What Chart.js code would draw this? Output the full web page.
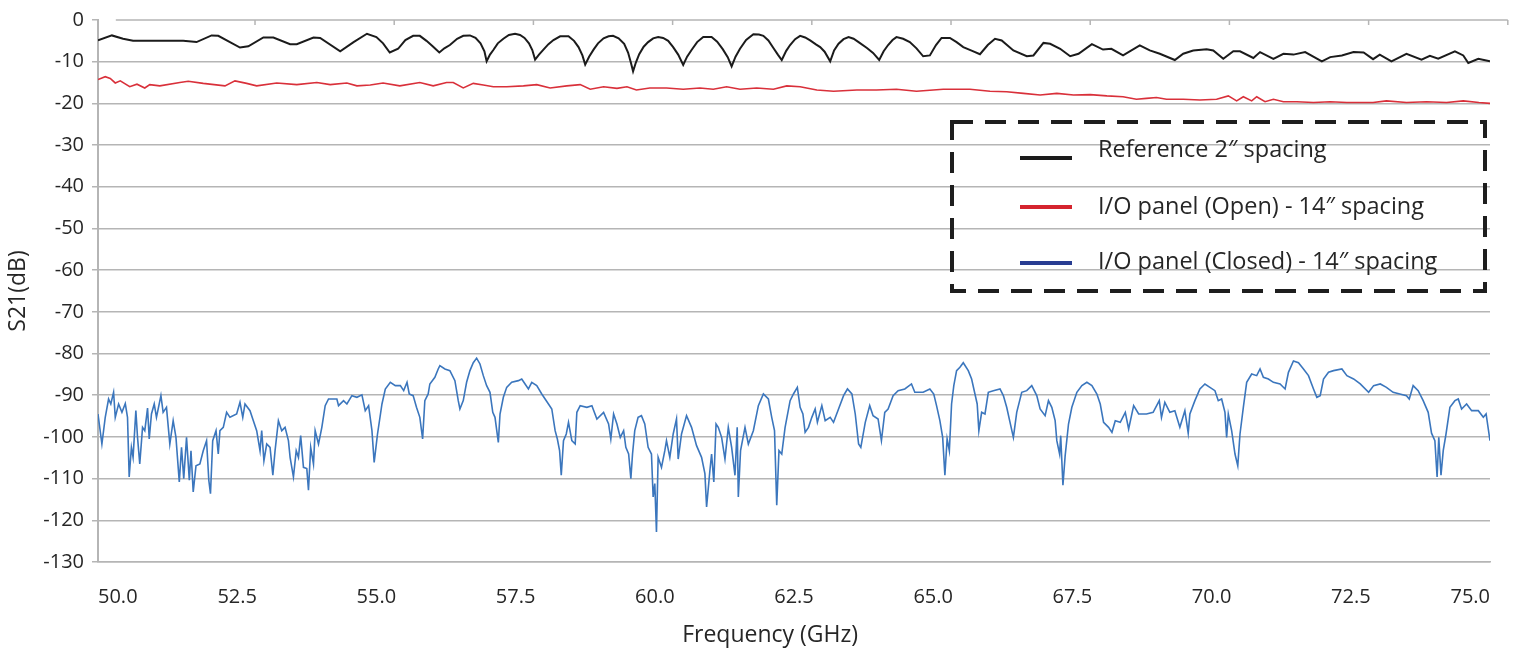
<!DOCTYPE html>
<html lang="en">
<head>
<meta charset="UTF-8">
<script src="https://cdn.jsdelivr.net/npm/chart.js"></script>
<style>
    body { margin: 0; padding: 0; background: #fff; }
    .chart-container { position: relative; width: 1524px; height: 651px; }
</style>
</head>
<body>
<div class="chart-container">
    <canvas id="myChart"></canvas>
</div>
<script>
// --- DATA ---
const seriesNames = [
    'Reference 2\u2033 spacing',
    'I/O panel (Open) - 14\u2033 spacing',
    'I/O panel (Closed) - 14\u2033 spacing'
];
const freqTicks = [50.0, 52.5, 55.0, 57.5, 60.0, 62.5, 65.0, 67.5, 70.0, 72.5, 75.0];
const dbTicks = [0, -10, -20, -30, -40, -50, -60, -70, -80, -90, -100, -110, -120, -130];

// Reference 2" spacing (black)
const refFreq = [50.0, 50.25, 50.45, 50.63, 51.53, 51.77, 52.04, 52.16, 52.55, 52.7, 52.97, 53.15, 53.45, 53.57, 53.87, 53.99,
    54.35, 54.59, 54.83, 55.0, 55.12, 55.24, 55.39, 55.52, 55.66, 55.78, 55.9, 56.02, 56.13,
    56.22, 56.32, 56.45, 56.56, 56.68, 56.78, 56.87, 56.94, 56.98,
    57.04, 57.1, 57.18, 57.28, 57.38, 57.49, 57.58, 57.66, 57.74, 57.8, 57.85,
    57.92, 58.0, 58.09, 58.18, 58.3, 58.45, 58.55, 58.63, 58.7, 58.75,
    58.82, 58.9, 58.98, 59.08, 59.17, 59.25, 59.35, 59.45, 59.52, 59.57, 59.61,
    59.66, 59.72, 59.8, 59.88, 59.97, 60.06, 60.15, 60.24, 60.33, 60.42, 60.51,
    60.58, 60.66, 60.76, 60.87, 61.02, 61.12, 61.22, 61.31, 61.38,
    61.45, 61.53, 61.64, 61.77, 61.87, 61.95, 62.04, 62.13, 62.21, 62.28,
    62.36, 62.43, 62.52, 62.61, 62.7, 62.79, 62.9, 62.97, 63.05, 63.15,
    63.22, 63.3, 63.39, 63.48, 63.57, 63.66, 63.81, 63.92, 64.03,
    64.11, 64.19, 64.27, 64.34, 64.46, 64.58, 64.7, 64.82, 64.94, 65.05, 65.15, 65.3, 65.42, 65.54, 65.7, 65.84,
    65.98, 66.11, 66.23, 66.44, 66.68, 66.8, 66.98,
    67.1, 67.28, 67.46, 67.61, 67.85, 68.05, 68.2, 68.41, 68.71, 68.89, 69.07, 69.34, 69.49, 69.67, 69.91, 70.03, 70.21, 70.39,
    70.51, 70.75, 70.87, 71.11, 71.29, 71.47, 71.68, 71.98, 72.13, 72.34, 72.55, 72.73, 72.9, 73.02, 73.23, 73.5, 73.77, 73.92,
    74.07, 74.37, 74.52, 74.61, 74.79, 75.0];
const refDb = [-4.9, -3.7, -4.5, -5.0, -5.0, -5.3, -3.7, -3.8, -6.6, -6.3, -4.2, -4.2, -5.8, -5.8, -4.2, -4.3,
    -7.5, -5.3, -3.3, -4.1, -5.6, -7.8, -6.9, -4.8, -3.8, -3.8, -5.0, -6.4, -7.8,
    -6.8, -6.0, -4.5, -3.8, -3.7, -4.3, -5.6, -7.5, -9.9,
    -8.3, -7.2, -5.6, -4.5, -3.6, -3.3, -3.6, -4.3, -5.6, -7.2, -9.5,
    -8.3, -7.1, -5.8, -4.8, -3.9, -3.9, -5.0, -6.5, -8.5, -10.7,
    -8.8, -7.1, -5.6, -4.4, -3.9, -3.8, -4.4, -5.7, -7.8, -10.2, -12.3,
    -10.2, -8.2, -6.4, -5.3, -4.4, -4.1, -4.3, -5.0, -6.5, -8.3, -10.8,
    -8.8, -7.2, -5.3, -4.1, -4.1, -5.2, -7.0, -8.9, -11.1,
    -8.8, -6.9, -4.8, -3.4, -3.5, -3.8, -4.9, -6.7, -8.3, -9.6,
    -7.4, -6.0, -4.6, -3.8, -4.2, -4.9, -5.9, -6.5, -7.6, -9.9,
    -7.3, -5.7, -4.6, -4.1, -4.5, -5.3, -6.7, -7.9, -9.6,
    -7.5, -6.0, -4.8, -4.1, -4.5, -5.3, -6.8, -8.7, -8.5, -6.0, -4.3, -4.3, -5.3, -6.5, -7.4, -8.2,
    -6.0, -4.5, -4.9, -7.3, -8.7, -8.5, -5.5,
    -5.7, -6.9, -8.7, -8.1, -5.8, -7.1, -6.9, -8.5, -6.1, -7.3, -8.1, -9.6, -8.1, -7.3, -7.0, -7.3, -9.3, -7.5,
    -7.5, -9.1, -7.7, -9.3, -8.1, -8.3, -7.7, -9.9, -8.9, -8.5, -7.7, -7.8, -9.4, -8.3, -9.9, -8.1, -9.5, -8.6,
    -9.3, -7.5, -8.5, -10.3, -9.3, -9.9];

// I/O panel open, 14" (red)
const openFreq = [50.0, 50.13, 50.22, 50.31, 50.4, 50.57, 50.7, 50.84, 50.93, 51.11, 51.47, 51.62, 51.89, 52.28, 52.46, 52.67,
    52.85, 53.21, 53.57, 53.93, 54.17, 54.47, 54.65, 54.89, 55.12, 55.42, 55.78, 56.02, 56.26, 56.38, 56.56, 56.74, 56.92,
    57.1, 57.34, 57.64, 57.88, 58.12, 58.42, 58.66, 58.84, 59.08, 59.32, 59.5, 59.67, 59.91, 60.21, 60.51, 60.81, 61.05,
    61.29, 61.53, 61.83, 62.13, 62.37, 62.61, 62.91, 63.21, 63.63, 63.98, 64.34, 64.7, 65.18, 65.66, 66.02, 66.32, 66.62,
    66.92, 67.22, 67.52, 67.82, 68.12, 68.41, 68.65, 68.83, 69.01, 69.19, 69.49, 69.79, 70.09, 70.3, 70.45, 70.57, 70.72,
    70.81, 70.96, 71.11, 71.29, 71.53, 71.83, 72.13, 72.43, 72.9, 73.14, 73.5, 73.86, 74.22, 74.52, 74.8, 75.0];
const openDb = [-14.3, -13.6, -14.0, -15.1, -14.6, -16.0, -15.4, -16.3, -15.5, -15.8, -15.0, -14.7, -15.2, -15.8, -14.6, -15.2,
    -15.8, -15.1, -15.5, -15.0, -15.5, -15.1, -15.8, -15.6, -15.1, -15.8, -15.0, -15.8, -15.0, -15.0, -16.3, -15.2, -15.6,
    -16.0, -16.0, -15.8, -15.5, -16.3, -15.8, -15.5, -16.6, -16.0, -16.4, -16.0, -16.8, -16.3, -16.3, -16.6, -16.3, -16.6,
    -16.0, -16.6, -16.3, -16.6, -15.8, -16.0, -16.8, -17.1, -16.8, -16.8, -16.6, -17.1, -16.6, -16.6, -17.1, -17.2, -17.6,
    -18.0, -17.6, -18.0, -17.9, -18.2, -18.4, -19.0, -18.8, -18.6, -19.0, -19.0, -19.2, -19.0, -18.2, -19.4, -18.4, -19.4,
    -18.4, -19.6, -19.0, -19.6, -19.6, -19.8, -19.6, -19.8, -19.8, -19.4, -19.8, -19.6, -19.8, -19.4, -19.8, -20.0];

// I/O panel closed, 14" (blue)
const closedFreq = [50.0, 50.07, 50.13, 50.19, 50.23, 50.28, 50.31, 50.37, 50.43, 50.49, 50.53, 50.56, 50.6, 50.63, 50.68,
    50.71, 50.75, 50.8, 50.84, 50.89, 50.92, 50.96, 51.01, 51.05, 51.13, 51.17, 51.23, 51.29, 51.35, 51.4, 51.46, 51.5, 51.54,
    51.59, 51.64, 51.67, 51.71, 51.76, 51.83, 51.89, 51.95, 51.99, 52.02, 52.06, 52.12, 52.16, 52.19, 52.25, 52.31, 52.37,
    52.49, 52.55, 52.6, 52.64, 52.73, 52.79, 52.85, 52.91, 52.94, 52.98, 53.03, 53.09, 53.14, 53.18, 53.24, 53.3, 53.36, 53.42,
    53.45, 53.51, 53.56, 53.6, 53.64, 53.69, 53.75, 53.78, 53.82, 53.87, 53.9, 53.96, 54.02, 54.08, 54.14, 54.29, 54.32, 54.41,
    54.47, 54.56, 54.65, 54.74, 54.8, 54.86, 54.92, 54.96, 55.02, 55.1, 55.16, 55.25, 55.34, 55.43, 55.49, 55.55, 55.59, 55.66,
    55.72, 55.78, 55.83, 55.87, 55.93, 55.96, 56.05, 56.11,
    56.14, 56.23, 56.32, 56.41, 56.47, 56.5, 56.56, 56.62, 56.68, 56.74, 56.8, 56.86, 56.92, 56.98, 57.04, 57.09, 57.13, 57.19,
    57.22, 57.28, 57.34, 57.43, 57.55, 57.61, 57.67, 57.73, 57.79, 57.88, 57.97, 58.03, 58.09, 58.15, 58.21, 58.25, 58.29,
    58.32, 58.36, 58.41, 58.45, 58.51, 58.57, 58.6, 58.66, 58.78, 58.87, 58.96, 59.08, 59.17, 59.21, 59.26, 59.32, 59.38,
    59.44, 59.48, 59.53, 59.57, 59.6, 59.64, 59.7, 59.76, 59.82, 59.88, 59.94, 59.97, 60.0, 60.03, 60.06, 60.12, 60.18, 60.21,
    60.27, 60.33, 60.39, 60.42, 60.48, 60.57, 60.66, 60.75, 60.84, 60.9, 60.93, 60.99, 61.02, 61.06, 61.1, 61.14, 61.2, 61.26,
    61.32, 61.38, 61.44, 61.48, 61.5, 61.54, 61.62, 61.68, 61.77, 61.86, 61.95, 62.04, 62.1, 62.15, 62.19, 62.23, 62.28, 62.34,
    62.43, 62.49, 62.56, 62.61, 62.66, 62.7, 62.76, 62.82, 62.88, 62.92, 63.0, 63.06, 63.15, 63.21, 63.3, 63.39, 63.46, 63.54,
    63.6, 63.66, 63.7, 63.78, 63.86, 63.92, 64.01, 64.07, 64.13, 64.19, 64.28, 64.37, 64.49, 64.61, 64.67, 64.82, 64.94, 65.01,
    65.06, 65.12, 65.17, 65.21, 65.25, 65.29, 65.33, 65.37, 65.42, 65.48, 65.54, 65.63, 65.69, 65.75, 65.79, 65.82, 65.87,
    65.93, 65.99, 66.08, 66.2, 66.26, 66.32, 66.38, 66.44, 66.5, 66.59, 66.68, 66.77, 66.86, 66.92, 67.01, 67.07, 67.13, 67.19,
    67.22, 67.27, 67.29, 67.33, 67.37, 67.43, 67.49, 67.58, 67.67, 67.76, 67.85, 67.94, 68.0, 68.06, 68.15, 68.21, 68.27,
    68.36, 68.45, 68.51, 68.6, 68.69,
    68.83, 68.95, 69.06, 69.1, 69.16, 69.25, 69.34, 69.43, 69.52, 69.58, 69.61, 69.7, 69.79, 69.88, 69.97, 70.06, 70.12,
    70.18, 70.24, 70.27, 70.3, 70.36, 70.42, 70.47, 70.51, 70.57, 70.63, 70.72, 70.81, 70.87, 70.93, 71.02, 71.11, 71.23,
    71.32, 71.38, 71.47, 71.56, 71.65, 71.74, 71.83, 71.89, 71.95, 72.01, 72.1, 72.19, 72.34, 72.43, 72.55, 72.67, 72.82,
    72.91, 73.03, 73.14, 73.26, 73.38, 73.5, 73.55, 73.62, 73.71, 73.8, 73.89, 73.95, 74.01, 74.05, 74.08, 74.12, 74.16,
    74.21, 74.28, 74.37, 74.43, 74.49, 74.58, 74.67, 74.79, 74.88, 74.93, 75.0];
const closedDb = [-94.5, -101.7, -95.3, -90.9, -92.1, -89.3, -95.3, -92.1, -94.1, -92.0, -95.3, -109.6, -102.5, -104.9, -93.7,
    -100.1, -106.5, -97.7, -98.5, -93.1, -100.5, -94.5, -92.1, -95.3, -90.1, -94.1, -92.9, -101.7, -96.1, -100.1, -110.8, -102.5, -110.0,
    -100.1, -110.4, -103.3, -113.2, -106.9, -106.5, -103.3, -100.9, -110.4, -113.6, -100.9, -98.5, -104.1, -98.5, -97.7, -94.1, -95.3,
    -94.5, -91.7, -95.3, -92.1, -93.7, -96.1, -98.5, -103.3, -98.5, -105.7, -101.7, -102.5, -109.2, -103.3, -96.1, -98.5, -97.7, -100.9,
    -104.9, -109.6, -103.3, -104.9, -99.7, -107.3, -107.6, -112.8, -102.5, -106.5, -98.5, -101.7, -97.7, -92.5, -90.9, -90.9, -92.5, -91.3,
    -92.1, -90.1, -90.5, -89.9, -93.7, -92.5, -98.5, -106.1, -99.3, -92.1, -88.5, -86.9, -87.7, -87.7, -88.9, -86.9, -89.7, -90.1,
    -92.9, -95.3, -100.5, -91.3, -89.7, -87.3, -85.7, -83.7,
    -82.9, -83.7, -84.1, -86.5, -91.3, -93.3, -91.3, -86.9, -84.1, -82.2, -81.1, -82.5, -85.3, -87.7, -89.3, -94.1, -95.3, -101.3,
    -94.5, -90.5, -88.1, -86.9, -86.5, -86.1, -87.3, -88.5, -86.9, -87.7, -89.7, -90.9, -92.1, -93.3, -98.5, -100.5, -103.3,
    -109.2, -100.9, -99.3, -96.5, -100.9, -101.7, -94.1, -92.5, -92.9, -92.5, -95.7, -94.1, -96.9, -100.5, -94.5, -96.9, -100.1,
    -98.5, -102.5, -104.1, -110.0, -104.1, -98.5, -95.3, -94.9, -96.9, -102.5, -104.1, -114.4, -111.2, -122.8, -104.9, -107.3, -103.3, -100.9,
    -104.9, -99.3, -95.7, -105.3, -99.3, -94.9, -97.7, -102.1, -104.9, -108.8, -116.8, -108.0, -104.1, -110.8, -96.9, -97.7, -100.1, -105.3,
    -97.7, -102.5, -109.2, -97.7, -114.4, -103.3, -97.7, -101.7, -98.5, -92.5, -89.7, -90.9, -95.3, -98.5, -116.4, -103.3, -104.1, -97.7,
    -91.3, -89.7, -88.1, -92.9, -94.5, -98.9, -97.7, -95.3, -93.3, -96.5, -92.5, -96.1, -95.3, -96.5, -93.3, -90.1, -88.5, -89.7,
    -94.5, -101.7, -102.5, -96.5, -92.5, -94.9, -95.7, -100.9, -94.1, -93.3, -90.1, -88.9, -88.5, -87.3, -89.3, -89.3, -88.5, -89.7,
    -92.5, -96.1, -100.1, -109.2, -100.5, -103.3, -92.1, -87.7, -84.1, -83.3, -82.2, -84.1, -86.1, -89.7, -92.1, -98.5, -94.1,
    -94.5, -89.3, -88.9, -88.5, -90.1, -92.9, -96.5, -100.1, -94.1, -89.3, -88.9, -87.7, -90.1, -93.3, -94.9, -91.3, -92.9, -96.1,
    -100.9, -104.1, -99.7, -111.6, -104.5, -96.9, -92.9, -89.3, -87.7, -86.9, -87.7, -89.7, -92.1, -96.5, -97.7, -98.9, -96.1,
    -96.5, -94.1, -98.1, -92.5, -94.5,
    -94.5, -94.1, -91.3, -95.3, -91.7, -94.1, -93.7, -97.7, -93.7, -99.1, -94.5, -91.3, -88.5, -87.3, -88.1, -88.9, -91.3,
    -90.9, -94.1, -100.1, -94.5, -98.5, -104.1, -106.9, -99.3, -92.9, -86.9, -84.9, -85.3, -83.7, -85.7, -86.1, -86.9, -87.3,
    -88.5, -84.5, -81.8, -82.2, -83.7, -85.3, -88.5, -90.5, -90.1, -86.1, -84.5, -84.1, -83.7, -85.3, -86.1, -87.3, -89.3,
    -87.7, -87.3, -88.1, -89.3, -89.7, -90.1, -90.9, -87.7, -88.9, -91.3, -94.1, -99.1, -100.9, -109.6, -100.1, -109.2, -103.3,
    -99.3, -92.9, -91.3, -90.9, -93.3, -92.1, -93.7, -93.7, -95.3, -94.5, -100.9];

const lineColors = ['#1b1b1b', '#d9303a', '#3b76bd'];
const legendColors = ['#1b1b1b', '#d5242e', '#283d92'];

const toPoints = (xs, ys) => xs.map((x, i) => ({ x: x, y: ys[i] }));

const FONT = '"Open Sans", Lato, sans-serif';
const GRID = '#b5b5b5';
const TEXT = '#262626';

// top edge with its shifted tick marks, plus the dashed legend box
const framePlugin = {
    id: 'framePlugin',
    afterDraw(chart) {
        const ctx = chart.ctx;
        const area = chart.chartArea;
        const top = chart.scales.xTop;
        ctx.save();
        ctx.strokeStyle = GRID;
        ctx.lineWidth = 1.5;
        ctx.beginPath();
        ctx.moveTo(top.getPixelForValue(freqTicks[0]), area.top);
        ctx.lineTo(top.getPixelForValue(freqTicks[freqTicks.length - 1]), area.top);
        freqTicks.slice(1).forEach(v => {
            const px = top.getPixelForValue(v);
            ctx.moveTo(px, area.top);
            ctx.lineTo(px, area.top + 5);
        });
        ctx.stroke();

        // legend
        ctx.setLineDash([21, 12]);
        ctx.lineWidth = 4;
        ctx.strokeStyle = '#1e1e1e';
        ctx.strokeRect(952, 122, 533, 169);
        ctx.setLineDash([]);
        const rows = [150, 207, 262];
        const lineDy = [8, 0, 1];
        ctx.font = '23.5px ' + FONT;
        ctx.textBaseline = 'middle';
        ctx.textAlign = 'left';
        seriesNames.forEach((name, i) => {
            ctx.strokeStyle = legendColors[i];
            ctx.lineWidth = 4;
            ctx.beginPath();
            ctx.moveTo(1020, rows[i] + lineDy[i]);
            ctx.lineTo(1072, rows[i] + lineDy[i]);
            ctx.stroke();
            ctx.fillStyle = TEXT;
            ctx.fillText(name, 1098, rows[i]);
        });
        ctx.restore();
    }
};

const ctx = document.getElementById('myChart').getContext('2d');
new Chart(ctx, {
    type: 'line',
    data: {
        datasets: [
            { label: seriesNames[2], data: toPoints(closedFreq, closedDb), borderColor: lineColors[2], borderWidth: 1.6 },
            { label: seriesNames[1], data: toPoints(openFreq, openDb), borderColor: lineColors[1], borderWidth: 1.6 },
            { label: seriesNames[0], data: toPoints(refFreq, refDb), borderColor: lineColors[0], borderWidth: 2 }
        ]
    },
    options: {
        responsive: true,
        maintainAspectRatio: false,
        animation: false,
        elements: { point: { radius: 0 }, line: { tension: 0 } },
        layout: { padding: { left: 0, right: 34, top: 18, bottom: 0 } },
        plugins: { legend: { display: false }, tooltip: { enabled: false } },
        scales: {
            x: {
                type: 'linear',
                min: 50, max: 75,
                afterBuildTicks: axis => { axis.ticks = freqTicks.map(v => ({ value: v })); },
                afterFit: axis => { axis.height = 89; },
                grid: { display: false, drawTicks: false },
                border: { display: true, color: GRID, width: 1.5 },
                ticks: {
                    align: 'inner',
                    padding: 23,
                    color: TEXT,
                    font: { size: 20, family: FONT },
                    callback: v => Number(v).toFixed(1)
                },
                title: {
                    display: true,
                    // trailing spaces nudge the centred title left, as in the original
                    text: 'Frequency (GHz)\u00a0\u00a0\u00a0\u00a0\u00a0\u00a0\u00a0\u00a0',
                    color: TEXT,
                    font: { size: 23, family: FONT },
                    padding: { top: 0, bottom: 2 }
                }
            },
            xTop: {
                type: 'linear',
                position: 'top',
                display: false,
                min: 49.68, max: 74.68
            },
            y: {
                min: -130, max: 0,
                afterBuildTicks: axis => { axis.ticks = dbTicks.map(v => ({ value: v })); },
                afterFit: axis => { axis.width = 98; },
                grid: {
                    color: c => (c.tick && c.tick.value === 0) ? 'rgba(0,0,0,0)' : GRID,
                    tickColor: GRID,
                    lineWidth: 1.5,
                    tickLength: 6
                },
                border: { display: true, color: GRID, width: 2 },
                ticks: {
                    padding: 8,
                    color: TEXT,
                    font: { size: 20, family: FONT }
                },
                title: {
                    display: true,
                    text: 'S21(dB)',
                    color: TEXT,
                    font: { size: 23, family: FONT },
                    padding: { top: 5, bottom: 0 }
                }
            }
        }
    },
    plugins: [framePlugin]
});
</script>
</body>
</html>
